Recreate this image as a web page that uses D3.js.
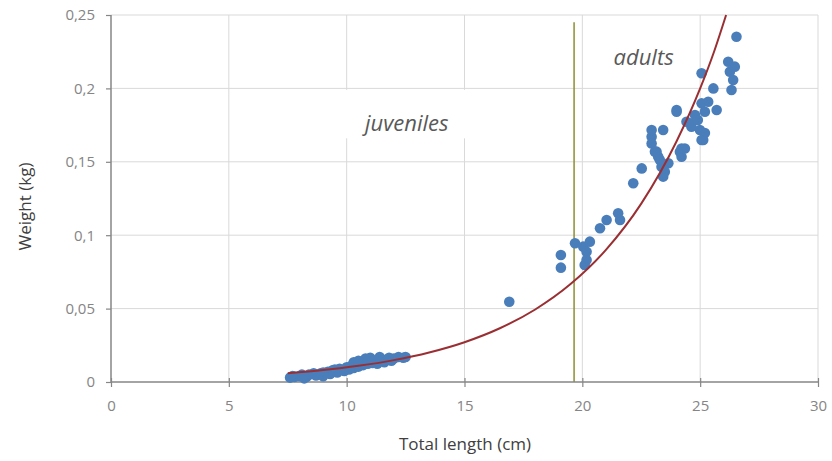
<!DOCTYPE html>
<html>
<head>
<meta charset="utf-8">
<script src="https://cdn.jsdelivr.net/npm/d3@7"></script>
<style>
  html, body { margin: 0; padding: 0; background: #fff; }
  svg { display: block; font-family: "Open Sans", "Liberation Sans", sans-serif; }
</style>
</head>
<body>
<svg id="chart" width="832" height="461"></svg>
<script>
// ---- Data ----
const juvenileLength = [7.6, 7.7, 7.8, 8.0, 8.1, 8.3, 8.4, 8.6, 8.7, 8.9, 9.0, 9.2, 9.3, 9.4, 9.6, 9.7, 9.9, 10.0, 10.1, 10.2, 10.3, 10.4, 10.5, 10.6, 10.7, 10.8, 10.9, 11.0, 11.1, 11.2, 11.3, 11.5, 11.6, 11.8, 11.9, 12.0, 12.2, 12.4, 12.5, 10.5, 11.0, 9.5, 10.3, 10.8, 11.4, 9.0, 8.2];
const juvenileWeight = [0.003, 0.004, 0.0035, 0.004, 0.005, 0.0035, 0.005, 0.006, 0.0045, 0.006, 0.0065, 0.007, 0.0055, 0.008, 0.0065, 0.009, 0.0075, 0.010, 0.0085, 0.011, 0.0095, 0.012, 0.0105, 0.013, 0.0115, 0.014, 0.0125, 0.015, 0.013, 0.0145, 0.0125, 0.0155, 0.0135, 0.0165, 0.0145, 0.016, 0.017, 0.0165, 0.017, 0.0145, 0.0165, 0.0085, 0.0135, 0.016, 0.017, 0.004, 0.0025];

const adultLength = [16.9, 19.09, 19.09, 19.69, 20.04, 20.32, 20.18, 20.18, 20.1, 20.75, 21.03, 21.52, 21.6, 22.16, 22.52, 22.94, 23.43, 23.08, 23.22, 23.36, 23.43, 23.65, 24.14, 24.35, 24.21, 24.56, 24.99, 25.13, 25.2, 22.94, 23.15, 23.29, 23.5, 24.21, 24.0, 24.9, 25.06, 26.54, 26.19, 26.47, 26.26, 26.4, 26.33, 25.06, 25.56, 25.34, 25.7, 25.06, 25.2, 24.78, 24.0, 24.42, 24.63, 22.94];
const adultWeight = [0.0547, 0.0865, 0.0779, 0.0945, 0.0922, 0.0956, 0.0888, 0.0831, 0.0797, 0.1047, 0.1104, 0.1149, 0.1104, 0.1354, 0.1455, 0.1671, 0.1717, 0.1569, 0.1535, 0.1467, 0.1399, 0.149, 0.1569, 0.1591, 0.1535, 0.1762, 0.1717, 0.1649, 0.1696, 0.1625, 0.1569, 0.1512, 0.1433, 0.1591, 0.1853, 0.1785, 0.1649, 0.2352, 0.2182, 0.2148, 0.2114, 0.2057, 0.1989, 0.2103, 0.2000, 0.1909, 0.1853, 0.1898, 0.1841, 0.1819, 0.1841, 0.1773, 0.1739, 0.1717];

// trend line points
const trendLength = [7.5, 9, 10.5, 12, 13.5, 15, 16.5, 18, 19.5, 21, 22.5, 24, 25, 25.6, 26.1];
const trendWeight = [0.0060, 0.0081, 0.0110, 0.0149, 0.0201, 0.0271, 0.0366, 0.0494, 0.0667, 0.0900, 0.1215, 0.1640, 0.2000, 0.2255, 0.2500];

const boundaryLength = 19.65; // vertical line separating juveniles / adults
const boundaryTop = 0.245;

const xTicks = [0, 5, 10, 15, 20, 25, 30];
const xTickLabels = ["0", "5", "10", "15", "20", "25", "30"];
const yTicks = [0, 0.05, 0.1, 0.15, 0.2, 0.25];
const yTickLabels = ["0", "0,05", "0,1", "0,15", "0,2", "0,25"];

const labels = [
  { text: "juveniles", x: 12.55, y: 0.171 },
  { text: "adults", x: 22.6, y: 0.216 }
];

// ---- Layout ----
const svg = d3.select("#chart");
const mLeft = 111, mRight = 818, mTop = 15, mBottom = 382;

const x = d3.scaleLinear().domain([0, 30]).range([mLeft, mRight]);
const y = d3.scaleLinear().domain([0, 0.25]).range([mBottom, mTop]);

// gridlines
const grid = svg.append("g");
grid.selectAll("line.v").data(xTicks.slice(1)).join("line")
  .attr("x1", d => x(d)).attr("x2", d => x(d))
  .attr("y1", y(0)).attr("y2", y(0.25))
  .attr("stroke", "#d9d9d9").attr("stroke-width", 1);
grid.selectAll("line.h").data(yTicks.slice(1)).join("line")
  .attr("x1", x(0)).attr("x2", x(30))
  .attr("y1", d => y(d)).attr("y2", d => y(d))
  .attr("stroke", "#d9d9d9").attr("stroke-width", 1);

// white text box behind "juveniles"
svg.append("rect")
  .attr("x", x(9.8)).attr("y", y(0.199))
  .attr("width", x(15.2) - x(9.8)).attr("height", y(0.166) - y(0.199))
  .attr("fill", "#fff");

// vertical boundary line
svg.append("line")
  .attr("x1", x(boundaryLength)).attr("x2", x(boundaryLength))
  .attr("y1", y(boundaryTop)).attr("y2", y(0))
  .attr("stroke", "#8e8e32").attr("stroke-width", 1.5);

// axes
const xAxis = d3.axisBottom(x).tickValues(xTicks).tickFormat((d, i) => xTickLabels[i]).tickSize(5).tickPadding(13);
const yAxis = d3.axisLeft(y).tickValues(yTicks).tickFormat((d, i) => yTickLabels[i]).tickSize(5).tickPadding(11);

const gx = svg.append("g").attr("transform", `translate(0,${mBottom})`).call(xAxis);
const gy = svg.append("g").attr("transform", `translate(${mLeft},0)`).call(yAxis);
[gx, gy].forEach(g => {
  g.select(".domain").attr("stroke", "#868686").attr("stroke-width", 1.5);
  g.selectAll(".tick line").attr("stroke", "#868686").attr("stroke-width", 1.2);
  g.selectAll(".tick text").attr("fill", "#858585").attr("font-size", 15)
    .attr("font-family", "'Open Sans', sans-serif");
});
gx.select(".domain").attr("d", `M${mLeft},0H${mRight}`);
gy.select(".domain").attr("d", `M0,${mBottom}V${mTop}`);
// crossing tick marks on x axis
gx.selectAll(".tick line").attr("y1", -4).attr("y2", 5);

// points
const dots = svg.append("g");
const juv = juvenileLength.map((l, i) => [l, juvenileWeight[i]]);
const adu = adultLength.map((l, i) => [l, adultWeight[i]]);
dots.selectAll("circle.j").data(juv).join("circle")
  .attr("cx", d => x(d[0])).attr("cy", d => y(d[1])).attr("r", 5.3)
  .attr("fill", "#4a7ebb");
dots.selectAll("circle.a").data(adu).join("circle")
  .attr("cx", d => x(d[0])).attr("cy", d => y(d[1])).attr("r", 5.3)
  .attr("fill", "#4a7ebb");

// trend line
const trend = trendLength.map((l, i) => [l, trendWeight[i]]);
svg.append("path")
  .datum(trend)
  .attr("d", d3.line().x(d => x(d[0])).y(d => y(d[1])).curve(d3.curveMonotoneX))
  .attr("fill", "none").attr("stroke", "#9a2f33").attr("stroke-width", 2);

// labels
svg.selectAll("text.lbl").data(labels).join("text")
  .attr("class", "lbl")
  .attr("x", d => x(d.x)).attr("y", d => y(d.y))
  .attr("text-anchor", "middle")
  .attr("font-style", "italic").attr("font-size", 22)
  .attr("fill", "#595959")
  .text(d => d.text);

// axis titles
svg.append("text")
  .attr("x", 465).attr("y", 450)
  .attr("text-anchor", "middle").attr("font-size", 17).attr("fill", "#404040")
  .text("Total length (cm)");
svg.append("text")
  .attr("transform", `translate(31,${(mTop + mBottom) / 2 + 8}) rotate(-90)`)
  .attr("text-anchor", "middle").attr("font-size", 17).attr("fill", "#404040")
  .text("Weight (kg)");
</script>
</body>
</html>
